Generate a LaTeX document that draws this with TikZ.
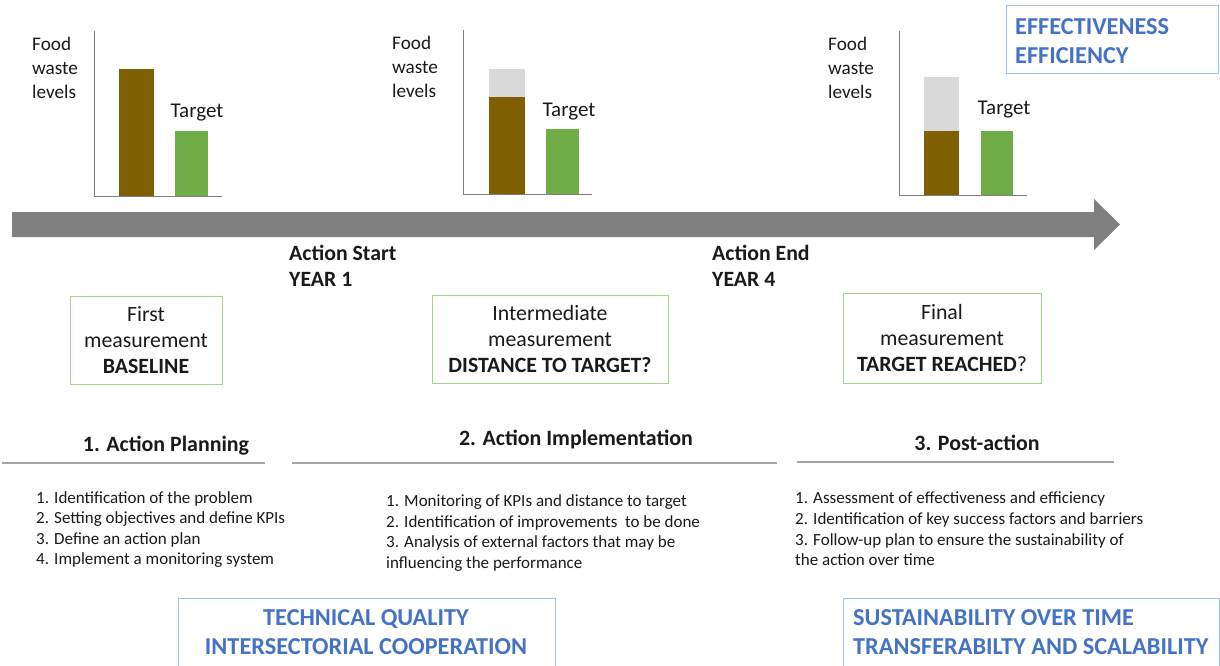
\documentclass[tikz,border=0pt]{standalone}
\usepackage{fontspec}
\setmainfont{Carlito}
\definecolor{brownbar}{HTML}{7F6000}
\definecolor{greenbar}{HTML}{70AD47}
\definecolor{greybar}{HTML}{D9D9D9}
\definecolor{axisgrey}{HTML}{7F7F7F}
\definecolor{arrowgrey}{HTML}{808080}
\definecolor{boxgreen}{HTML}{A9D18E}
\definecolor{bluetext}{HTML}{4472C4}
\definecolor{boxblue}{HTML}{9DC3E6}
\definecolor{rulegrey}{HTML}{A6A6A6}
\definecolor{txt}{HTML}{1A1A1A}
\begin{document}
\begin{tikzpicture}[x=1pt,y=-1pt,
  axisline/.style={draw=axisgrey,line width=0.9pt},
  ylabel/.style={anchor=west,inner sep=0pt,align=left,text=txt,font=\fontsize{19.2}{24}\selectfont},
  tgtlabel/.style={anchor=center,inner sep=0pt,text=txt,font=\fontsize{21}{24}\selectfont},
  yearlabel/.style={anchor=west,inner sep=0pt,align=left,text=txt,font=\fontsize{21.8}{26}\selectfont\bfseries},
  measbox/.style={draw=boxgreen,line width=1pt,inner sep=0pt,align=center,text=txt,font=\fontsize{21.8}{26}\selectfont},
  phase/.style={anchor=center,inner sep=0pt,text=txt,font=\fontsize{21.9}{26}\selectfont\bfseries},
  phaserule/.style={draw=rulegrey,line width=1.2pt},
  listtext/.style={anchor=west,inner sep=0pt,align=left,text=txt,font=\fontsize{17}{20.6}\selectfont},
  bluebox/.style={draw=boxblue,line width=1pt,inner sep=0pt},
  bluelabel/.style={inner sep=0pt,text=bluetext,font=\fontsize{24.3}{29}\selectfont\bfseries}
]
\useasboundingbox (0,0) rectangle (1220,666);

% ---------- chart 1 ----------
\fill[brownbar] (119,69) rectangle (154,196);
\fill[greenbar] (175,131) rectangle (208,196);
\draw[axisline] (94,31) -- (94,196) -- (222,196);
\node[ylabel] (fw1) at (32,68) {Food\\waste\\levels};
\node[tgtlabel] (t1) at (197,113) {Target};

% ---------- chart 2 ----------
\fill[greybar] (489,69) rectangle (525,97);
\fill[brownbar] (489,97) rectangle (525,194);
\fill[greenbar] (546,129) rectangle (579,194);
\draw[axisline] (463,30) -- (463,194) -- (592,194);
\node[ylabel] (fw2) at (392,67) {Food\\waste\\levels};
\node[tgtlabel] (t2) at (569,112) {Target};

% ---------- chart 3 ----------
\fill[greybar] (924,77) rectangle (959,131);
\fill[brownbar] (924,131) rectangle (959,195);
\fill[greenbar] (981,131) rectangle (1013,195);
\draw[axisline] (899,31) -- (899,195) -- (1027,195);
\node[ylabel] (fw3) at (828,68) {Food\\waste\\levels};
\node[tgtlabel] (t3) at (1004,110) {Target};

% ---------- effectiveness box ----------
\draw[bluebox] (1006,6) rectangle (1218,74);
\node[bluelabel,anchor=west,align=left] (eff) at (1015,41) {EFFECTIVENESS\\EFFICIENCY};

% ---------- timeline arrow ----------
\fill[arrowgrey] (12,212) -- (1094,212) -- (1094,199) -- (1120,224.5)
  -- (1094,250) -- (1094,237) -- (12,237) -- cycle;

\node[yearlabel] (start) at (289,266) {Action Start\\YEAR 1};
\node[yearlabel] (end) at (712,266) {Action End\\YEAR 4};

% ---------- measurement boxes ----------
\node[measbox,minimum width=152pt,minimum height=88pt] (m1) at (146,340)
  {First\\measurement\\\textbf{BASELINE}};
\node[measbox,minimum width=236pt,minimum height=88pt] (m2) at (550,339)
  {Intermediate\\measurement\\\textbf{DISTANCE TO TARGET?}};
\node[measbox,minimum width=198pt,minimum height=90pt] (m3) at (942,338)
  {Final\\measurement\\\textbf{TARGET REACHED}?};

% ---------- phases ----------
\node[phase] (p1) at (166,446) {1. Action Planning};
\draw[phaserule] (2,463) -- (265,463);
\node[phase] (p2) at (576,440) {2. Action Implementation};
\draw[phaserule] (292,463) -- (777,463);
\node[phase] (p3) at (977,443) {3. Post-action};
\draw[phaserule] (797,462) -- (1114,462);

\node[listtext] (l1) at (36,529.5) {1. Identification of the problem\\2. Setting objectives and define KPIs\\3. Define an action plan\\4. Implement a monitoring system};
\node[listtext] (l2) at (386,533) {1. Monitoring of KPIs and distance to target\\2. Identification of improvements\ \ to be done\\3. Analysis of external factors that may be\\influencing the performance};
\node[listtext] (l3) at (795,529) {1. Assessment of effectiveness and efficiency\\2. Identification of key success factors and barriers\\3. Follow-up plan to ensure the sustainability of\\the action over time};

% ---------- bottom boxes ----------
\draw[bluebox] (178,672) -- (178,598) -- (555,598) -- (555,672);
\node[bluelabel,anchor=center,align=center] (tech) at (366,632) {TECHNICAL QUALITY\\INTERSECTORIAL COOPERATION};
\draw[bluebox] (843,672) -- (843,598) -- (1219,598) -- (1219,672);
\node[bluelabel,anchor=west,align=left] (sust) at (853,632) {SUSTAINABILITY OVER TIME\\TRANSFERABILTY AND SCALABILITY};
\end{tikzpicture}
\end{document}
